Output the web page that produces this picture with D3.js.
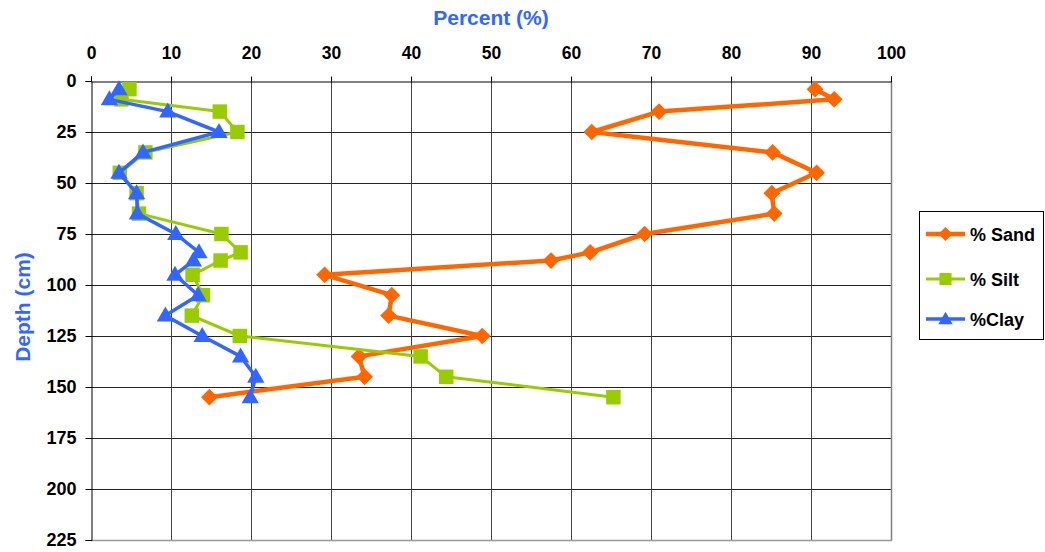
<!DOCTYPE html>
<html>
<head>
<meta charset="utf-8">
<script src="https://cdn.jsdelivr.net/npm/d3@7"></script>
<style>
  html, body { margin: 0; padding: 0; background: #fff; }
  svg { display: block; font-family: Arial, "Liberation Sans", sans-serif; }
</style>
</head>
<body>
<svg id="chart" width="1045" height="552"></svg>
<script>
const depths = [4, 9, 15, 25, 35, 45, 55, 65, 75, 84, 88, 95, 105, 115, 125, 135, 145, 155];
const sand = [90.5, 92.9, 71.0, 62.6, 85.2, 90.7, 85.1, 85.4, 69.2, 62.4, 57.5, 29.2, 37.6, 37.2, 48.9, 33.5, 34.2, 14.8];
const silt = [4.8, 3.8, 16.1, 18.3, 6.8, 3.6, 5.7, 6.0, 16.3, 18.7, 16.2, 12.7, 14.0, 12.6, 18.6, 41.2, 44.4, 65.3];
const clay = [3.5, 2.3, 9.6, 16.0, 6.5, 3.5, 5.7, 5.8, 10.6, 13.5, 12.8, 10.5, 13.4, 9.3, 13.9, 18.7, 20.6, 19.9];
const xTicks = [0, 10, 20, 30, 40, 50, 60, 70, 80, 90, 100];
const yTicks = [0, 25, 50, 75, 100, 125, 150, 175, 200, 225];
const seriesNames = ["% Sand", "% Silt", "%Clay"];
const seriesColors = ["#FF6600", "#99CC00", "#3366FF"];

const svg = d3.select("#chart");
const pL = 91, pR = 891, pT = 81, pB = 540;
const x = d3.scaleLinear().domain([0, 100]).range([pL, pR]);
const y = d3.scaleLinear().domain([0, 225]).range([pT, pB]);

// gridlines
const g = svg.append("g");
g.selectAll(".hg").data(yTicks.slice(1, -1)).join("line")
  .attr("x1", pL).attr("x2", pR)
  .attr("y1", d => Math.round(y(d)) + 0.5).attr("y2", d => Math.round(y(d)) + 0.5)
  .attr("stroke", "#222").attr("stroke-width", 1);
g.selectAll(".vg").data(xTicks.slice(1, -1)).join("line")
  .attr("x1", d => Math.round(x(d)) + 0.5).attr("x2", d => Math.round(x(d)) + 0.5)
  .attr("y1", pT).attr("y2", pB)
  .attr("stroke", "#444").attr("stroke-width", 1);
// borders
g.append("line").attr("x1", pR + 0.5).attr("x2", pR + 0.5).attr("y1", pT).attr("y2", pB + 1)
  .attr("stroke", "#808080").attr("stroke-width", 1.5);
g.append("line").attr("x1", pL).attr("x2", pR + 1).attr("y1", pB + 0.5).attr("y2", pB + 0.5)
  .attr("stroke", "#999").attr("stroke-width", 1.5);

// axes
const xAxis = d3.axisTop(x).tickValues(xTicks).tickSize(5).tickPadding(18).tickFormat(d3.format("d"));
const xg = svg.append("g").attr("transform", `translate(0,${pT + 0.5})`).call(xAxis);
xg.select(".domain").attr("stroke", "#000");
xg.selectAll(".tick line").attr("stroke", "#000");
xg.selectAll("text").attr("font-size", 17.5).attr("font-weight", "bold").attr("fill", "#000");

const yAxis = d3.axisLeft(y).tickValues(yTicks).tickSize(6).tickPadding(9).tickFormat(d3.format("d"));
const yg = svg.append("g").attr("transform", `translate(${pL + 0.5},0)`).call(yAxis);
yg.select(".domain").attr("stroke", "#000");
yg.selectAll(".tick line").attr("stroke", "#000");
yg.selectAll("text").attr("font-size", 18).attr("font-weight", "bold").attr("fill", "#000");

// titles
svg.append("text").attr("x", 491).attr("y", 25).attr("text-anchor", "middle")
  .attr("font-size", 21).attr("font-weight", "bold").attr("fill", "#3366FF").text("Percent (%)");
svg.append("text").attr("transform", "translate(30,307) rotate(-90)").attr("text-anchor", "middle")
  .attr("font-size", 21).attr("font-weight", "bold").attr("fill", "#3366FF").text("Depth (cm)");

// series
const symbols = [d3.symbolSquare, d3.symbolSquare, d3.symbolTriangle];
const symSizes = [140, 210, 130];
const lineWidths = [4.5, 3, 3.5];
const data = [sand, silt, clay];
const line = d3.line().x(d => x(d[0])).y(d => y(d[1]));

data.forEach((vals, i) => {
  const pts = vals.map((v, j) => [v, depths[j]]);
  const sg = svg.append("g");
  sg.append("path").datum(pts).attr("d", line).attr("fill", "none")
    .attr("stroke", seriesColors[i]).attr("stroke-width", lineWidths[i]).attr("stroke-linejoin", "round");
  sg.selectAll("path.sym").data(pts).join("path").attr("class", "sym")
    .attr("d", d3.symbol().type(symbols[i]).size(symSizes[i]))
    .attr("transform", d => `translate(${x(d[0])},${y(d[1]) + (i === 2 ? 1 : 0)})` + (i === 0 ? " rotate(45)" : ""))
    .attr("fill", seriesColors[i]);
});

// legend
const lg = svg.append("g");
lg.append("rect").attr("x", 919.5).attr("y", 211.5).attr("width", 124).attr("height", 128)
  .attr("fill", "#fff").attr("stroke", "#000").attr("stroke-width", 1);
const legY = [234, 279, 319];
seriesNames.forEach((name, i) => {
  lg.append("line").attr("x1", 926).attr("x2", 965).attr("y1", legY[i]).attr("y2", legY[i])
    .attr("stroke", seriesColors[i]).attr("stroke-width", lineWidths[i]);
  lg.append("path").attr("d", d3.symbol().type(symbols[i]).size(symSizes[i] * 0.7))
    .attr("transform", `translate(945.5,${legY[i] + (i === 2 ? 1 : 0)})` + (i === 0 ? " rotate(45)" : ""))
    .attr("fill", seriesColors[i]);
  lg.append("text").attr("x", 970).attr("y", legY[i] + 6.5)
    .attr("font-size", 18).attr("font-weight", "bold").attr("fill", "#000").text(name);
});
</script>
</body>
</html>
